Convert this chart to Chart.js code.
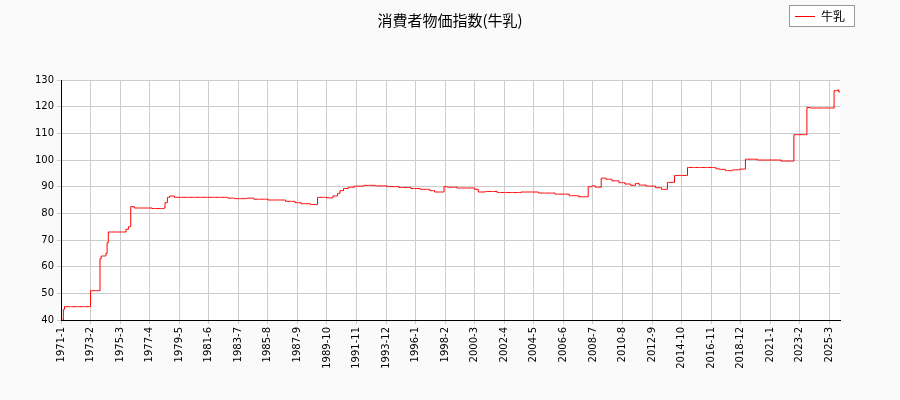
<!DOCTYPE html>
<html><head><meta charset="utf-8">
<script src="https://cdn.jsdelivr.net/npm/chart.js@4"></script>
<style>
body{margin:0;background:#fafafa;font-family:"DejaVu Sans",sans-serif;}
#wrap{position:relative;width:900px;height:400px;}
#title{position:absolute;top:9px;left:0;width:900px;text-align:center;font-size:15px;color:#000;font-family:"Noto Sans CJK JP";}
#legend{position:absolute;top:5px;left:789px;width:64px;height:20px;border:1px solid #999;background:#fff;font-size:12px;font-family:"Noto Sans CJK JP";}
#legend span.l{position:absolute;left:5px;top:10px;width:20px;height:1px;background:red;}
#legend span.t{position:absolute;left:31px;top:1px;}
</style></head><body>
<div id="wrap"><canvas id="c" width="900" height="400"></canvas>
<div id="title">消費者物価指数(牛乳)</div>
<div id="legend"><span class="l"></span><span class="t">牛乳</span></div></div>
<script>
const seriesName = "牛乳";
const startYear = 1971;
// run-length pairs: [index value, number of months]
const milkRuns = [[40,2],[44,1],[45,22],[51,8],[63,1],[64,4],[65,1],[69,1],[73,15],[74,2],[75,2],[82.5,3],[82,15],[81.8,10],[82,1],[84,2],[86,2],[86.5,4],[86,45],[85.7,6],[85.5,10],[85.7,6],[85.3,12],[85,15],[84.5,8],[84,5],[83.6,8],[83.3,6],[86,8],[85.8,5],[86.5,4],[87.5,2],[88.5,3],[89.3,4],[89.8,5],[90.2,8],[90.5,10],[90.3,10],[90,10],[89.7,10],[89.3,8],[89,8],[88.5,4],[88,8],[90,3],[89.8,8],[89.5,15],[89,3],[88,6],[88.2,10],[87.8,20],[88,15],[87.6,14],[87.2,12],[86.6,8],[86.2,8],[90,3],[90.3,3],[89.8,5],[93.2,4],[92.8,5],[92.2,6],[91.5,5],[91,5],[90.5,4],[91.2,3],[90.6,6],[90.2,8],[89.6,5],[89,5],[91.6,6],[94.2,11],[97.2,24],[96.7,3],[96.5,5],[96,6],[96.3,6],[96.6,5],[100.3,10],[100,20],[99.6,11],[109.5,11],[119.7,3],[119.5,20],[126,3],[126.3,1],[125.5,2]];
const yTicks = [40,50,60,70,80,90,100,110,120,130];
const values = [];
milkRuns.forEach(([v,n])=>{for(let i=0;i<n;i++)values.push(v);});
const labels = values.map((_,i)=>(startYear+Math.floor(i/12))+"-"+(i%12+1));
new Chart(document.getElementById('c'),{
 type:'line',
 data:{labels,datasets:[{label:seriesName,data:values,borderColor:'red',borderWidth:1,pointRadius:0,tension:0,stepped:true}]},
 options:{responsive:false,animation:false,
  layout:{padding:{top:80,right:60,left:0,bottom:0}},
  plugins:{legend:{display:false},title:{display:false}},
  scales:{
   x:{grid:{color:'#ccc',drawTicks:true,tickLength:4},border:{color:'#000'},
      afterFit:s=>{s.height=80;},
      ticks:{autoSkip:false,maxRotation:90,minRotation:90,color:'#000',font:{size:10,family:'DejaVu Sans'},
        callback:(v,i)=>i%25===0?labels[i]:null}},
   y:{min:40,max:130,grid:{color:'#ccc',tickLength:4},border:{color:'#000'},
      afterFit:s=>{s.width=61;},
      afterBuildTicks:s=>{s.ticks=yTicks.map(v=>({value:v}));},
      ticks:{color:'#000',font:{size:10,family:'DejaVu Sans'}}}
  }},
 plugins:[{id:'bg',beforeDraw(c){const a=c.chartArea,x=c.ctx;x.save();x.fillStyle='#fff';x.fillRect(a.left,a.top,a.right-a.left,a.bottom-a.top);x.restore();}}]
});
</script></body></html>
